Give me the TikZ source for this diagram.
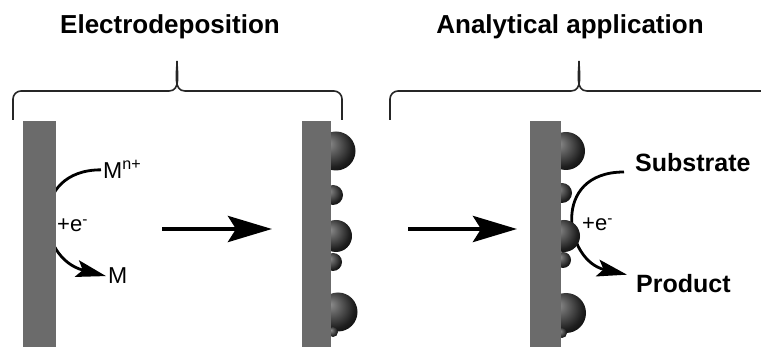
\documentclass[tikz,border=0pt]{standalone}
\usepackage{fontspec}
\setmainfont{Liberation Sans}
\usetikzlibrary{arrows.meta,positioning}

% dark metal grains with a soft grey highlight
\pgfdeclareradialshading{deposit}{\pgfpoint{-10bp}{10bp}}{%
  color(0bp)=(black!45); color(10bp)=(black!62); color(26bp)=(black!88);
  color(40bp)=(black); color(60bp)=(black)}

\begin{document}
\begin{tikzpicture}[
  x=1pt, y=1pt,
  title/.style={font=\fontsize{26}{30}\selectfont\bfseries, inner sep=0pt, anchor=base},
  species/.style={font=\fontsize{23}{26}\selectfont, inner sep=2pt, anchor=base west},
  charge/.style={font=\fontsize{22}{25}\selectfont, inner sep=0pt, anchor=base west},
  compound/.style={font=\fontsize{25}{29}\selectfont\bfseries, inner sep=0pt, anchor=base west},
  electrode/.style={fill=black!58, minimum height=240pt, anchor=north west, inner sep=0pt},
  grain/.style={shading=deposit},
  bracket/.style={line width=1.6pt, draw=black!85},
  forward/.style={-{Stealth[length=44pt, width=26pt, inset=8pt]}, line width=4.5pt},
  react/.style={-{Stealth[length=30pt, width=17pt, inset=6pt]}, line width=2.8pt}
]
  \useasboundingbox (0,0) rectangle (761,-347);

  % headings over the two braces
  \node[title] (depo) at (170,-34) {Electrodeposition};
  \node[title] (appl) at (570,-34) {Analytical application};

  \draw[bracket] (13,-120) -- (13,-99) to[out=90,in=180] (21,-91) -- (169,-91)
    to[out=0,in=-90] (177,-61) to[out=-90,in=180] (185,-91) -- (334,-91)
    to[out=0,in=90] (342,-99) -- (342,-120);
  \draw[bracket] (390,-120) -- (390,-99) to[out=90,in=180] (398,-91) -- (571,-91)
    to[out=0,in=-90] (579,-61) to[out=-90,in=180] (587,-91) -- (770,-91);

  % species and charge labels
  \node[species] (mion) at (101,-179) {M\textsuperscript{n+}};
  \node[species] (mmetal) at (106,-284) {M};
  \node[charge] (eleft) at (57,-232) {+e\textsuperscript{-}};

  \node[compound] (subs) at (635,-172) {Substrate};
  \node[compound] (prod) at (636,-293) {Product};
  \node[charge] (eright) at (582,-231) {+e\textsuperscript{-}};

  % electron transfer, partly hidden by electrode and grains
  \draw[react] (mion.west) .. controls +(-72,0) and +(-70,18) .. (mmetal.west);
  \draw[react] ([xshift=-11pt]subs.base west) .. controls +(-74,0) and +(-62,14)
    .. ([xshift=-9pt]prod.north west);

  % process steps
  \coordinate (stepAin) at (162,-229);
  \coordinate (stepAout) at (272,-229);
  \coordinate (stepBin) at (408,-229);
  \coordinate (stepBout) at (517,-229);
  \draw[forward] (stepAin) -- (stepAout);
  \draw[forward] (stepBin) -- (stepBout);

  % deposited grains
  \shade[grain] (336,-151) circle (19.5pt);
  \shade[grain] (333,-195) circle (10pt);
  \shade[grain] (336,-236) circle (16pt);
  \shade[grain] (333,-262) circle (9pt);
  \shade[grain] (338,-312) circle (19.5pt);
  \shade[grain] (333,-332) circle (5pt);

  \shade[grain] (566,-151) circle (19pt);
  \shade[grain] (562,-193) circle (10pt);
  \shade[grain] (564,-236) circle (16pt);
  \shade[grain] (563,-260) circle (8pt);
  \shade[grain] (566,-313) circle (20pt);
  \shade[grain] (562,-333) circle (5pt);

  % electrodes
  \node[electrode, minimum width=33pt] (elecA) at (23,-121) {};
  \node[electrode, minimum width=29pt] (elecB) at (302,-121) {};
  \node[electrode, minimum width=31pt] (elecC) at (530,-121) {};
\end{tikzpicture}
\end{document}
